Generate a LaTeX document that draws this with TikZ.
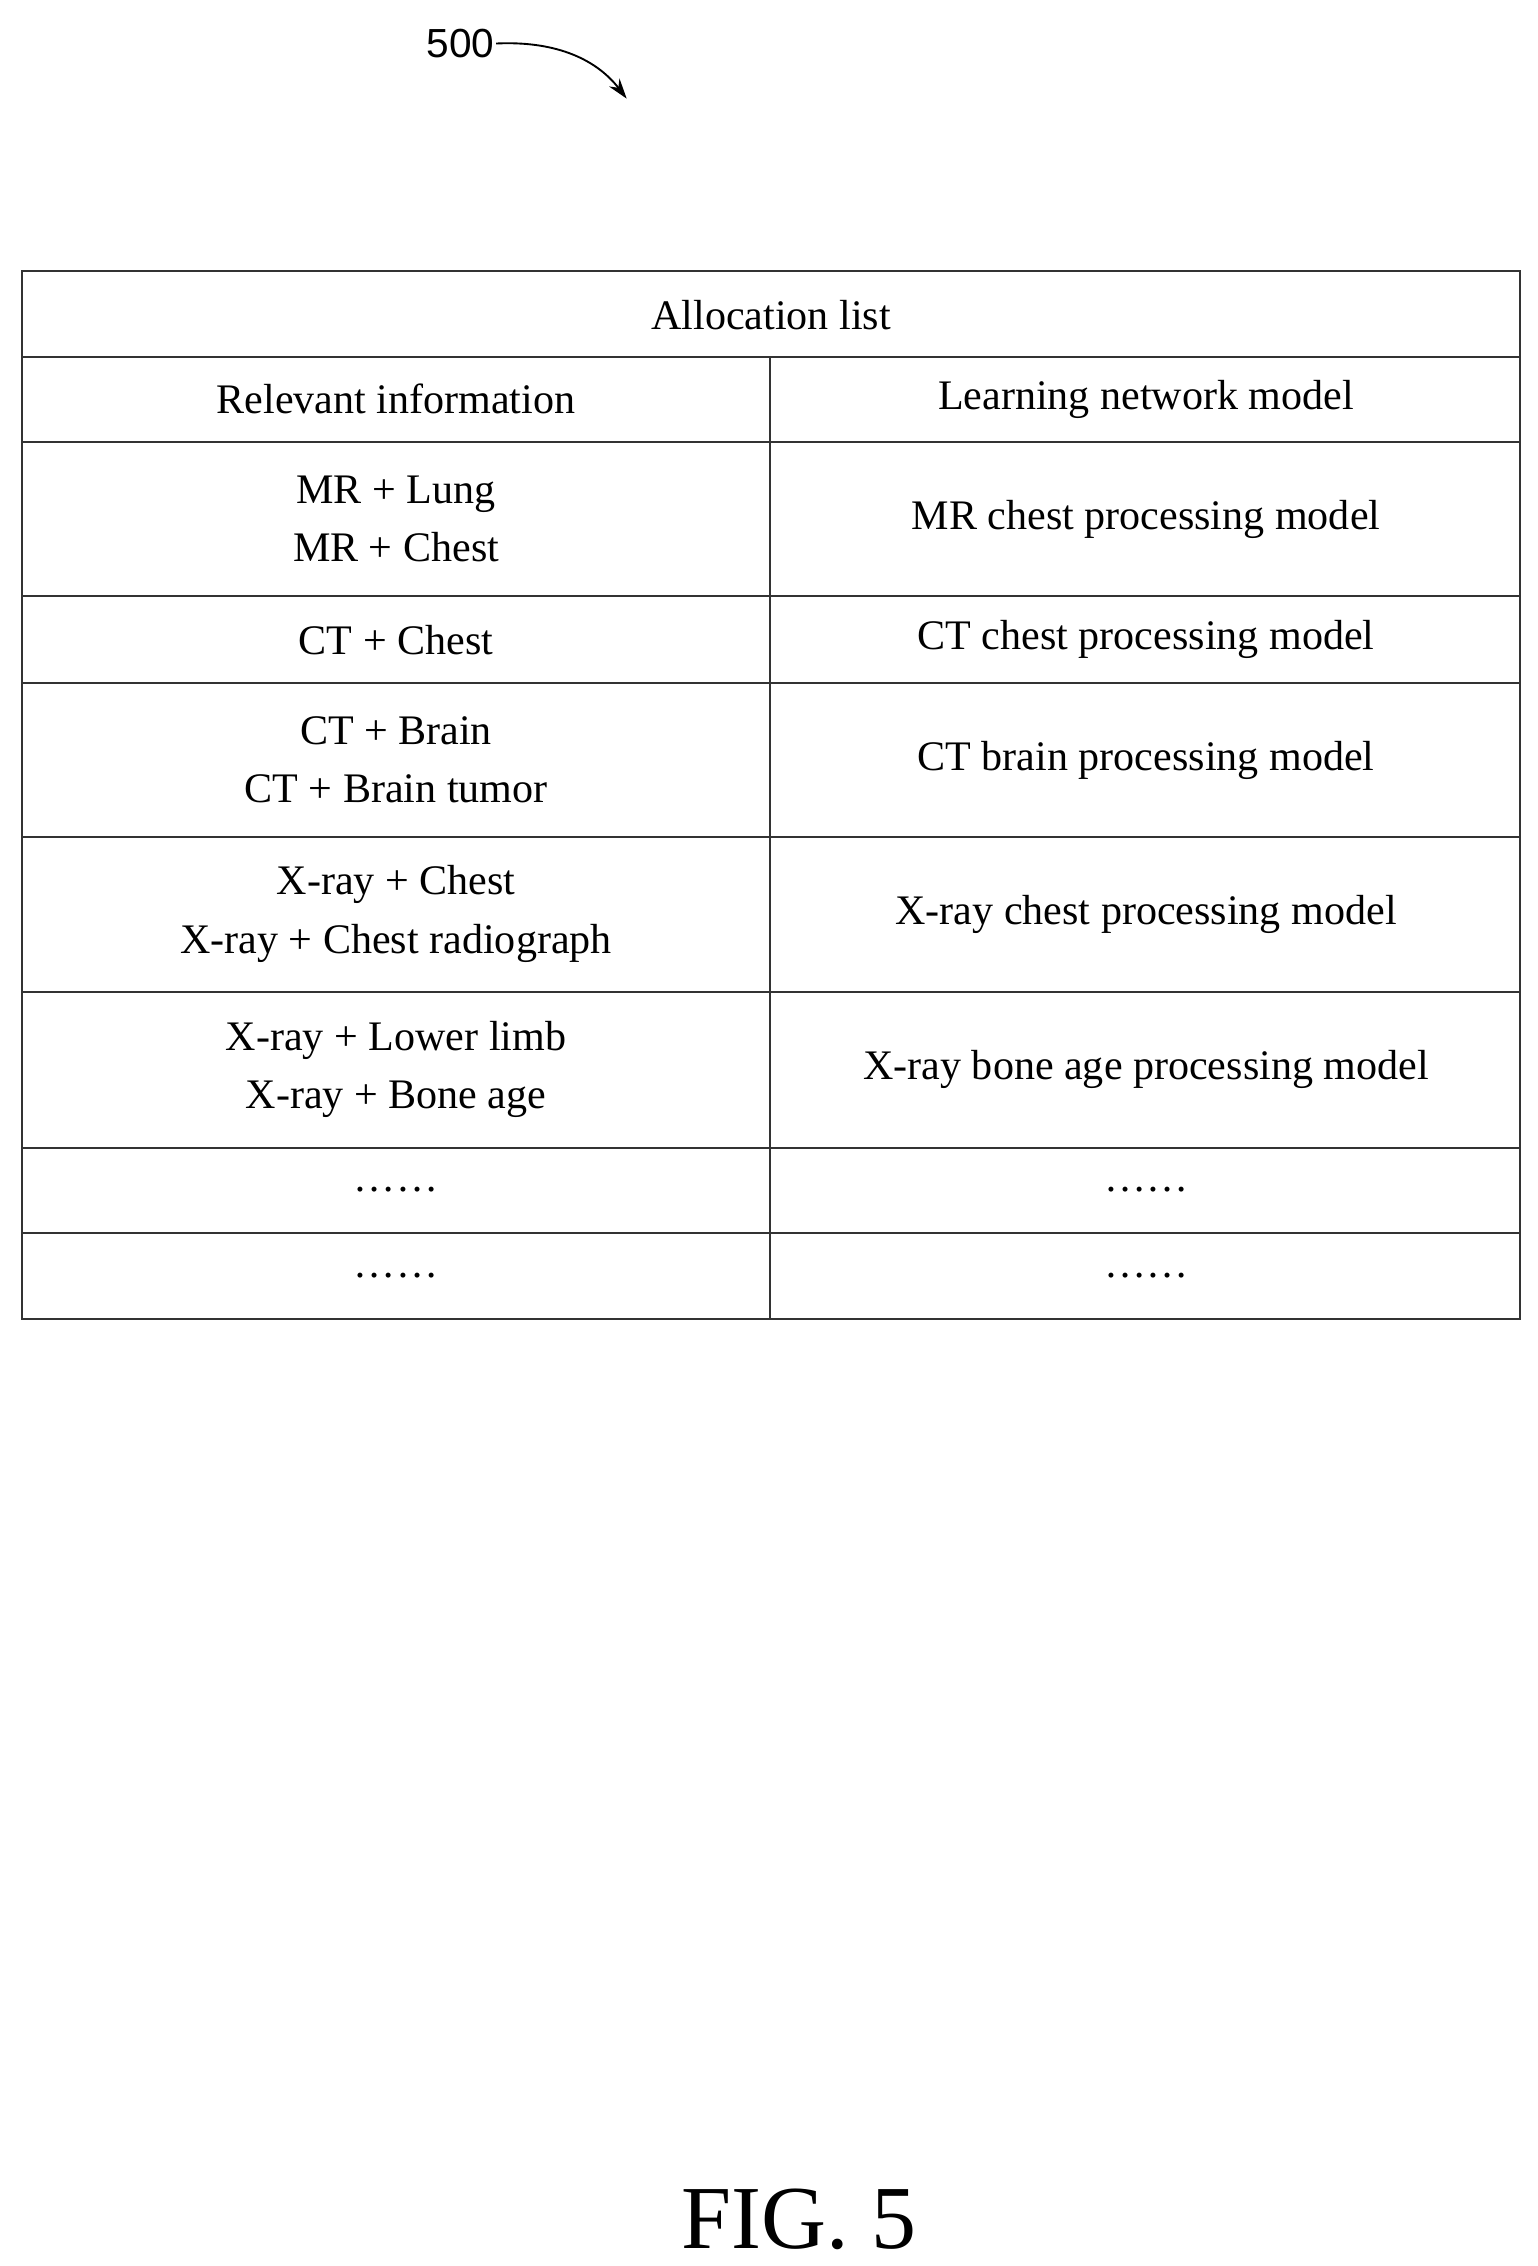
\documentclass[tikz,border=0pt]{standalone}
\usepackage{fontspec}
\setmainfont{Liberation Serif}
\newfontfamily\lsans{Liberation Sans}
\usetikzlibrary{arrows.meta}
\begin{document}
\begin{tikzpicture}[x=1pt,y=-1pt,
  cell/.style={font=\fontsize{29}{40}\selectfont,align=center,inner sep=0pt},
  grid/.style={line width=1.4pt,black!80}]
\useasboundingbox (0,0) rectangle (1060,1562);
\node[font=\lsans\fontsize{28}{30}\selectfont,anchor=east,inner sep=1pt] (lbl) at (342,30) {500};
\coordinate (tip) at (432,68);
\draw[line width=1.3pt,-{Stealth[length=14pt,width=9pt]}] (lbl.east) .. controls (385,28) and (412,42) .. (tip);
\draw[grid] (15,187) rectangle (1048,909);
\foreach \y in {246,305,411,471,577,684,791,850} \draw[grid] (15,\y) -- (1048,\y);
\draw[grid] (531,246) -- (531,909);
\node[cell] (t) at (531.5,217) {Allocation list};
\node[cell] (h1) at (273,275) {Relevant information};
\node[cell] (h2) at (790,275) {Learning network model};
\node[cell] (a1) at (273,358) {MR + Lung\\MR + Chest};
\node[cell] (b1) at (790,358) {MR chest processing model};
\node[cell] (a2) at (273,441) {CT + Chest};
\node[cell] (b2) at (790,441) {CT chest processing model};
\node[cell] (a3) at (273,524) {CT + Brain\\CT + Brain tumor};
\node[cell] (b3) at (790,524) {CT brain processing model};
\node[cell] (a4) at (273,630) {X-ray + Chest\\X-ray + Chest radiograph};
\node[cell] (b4) at (790,630) {X-ray chest processing model};
\node[cell] (a5) at (273,737) {X-ray + Lower limb\\X-ray + Bone age};
\node[cell] (b5) at (790,737) {X-ray bone age processing model};
\node[cell] (a6) at (273,820) {\ldots\ldots};
\node[cell] (b6) at (790,820) {\ldots\ldots};
\node[cell] (a7) at (273,879) {\ldots\ldots};
\node[cell] (b7) at (790,879) {\ldots\ldots};
\node[font=\fontsize{62}{70}\selectfont] (fig) at (551,1530) {FIG. 5};
\end{tikzpicture}
\end{document}
